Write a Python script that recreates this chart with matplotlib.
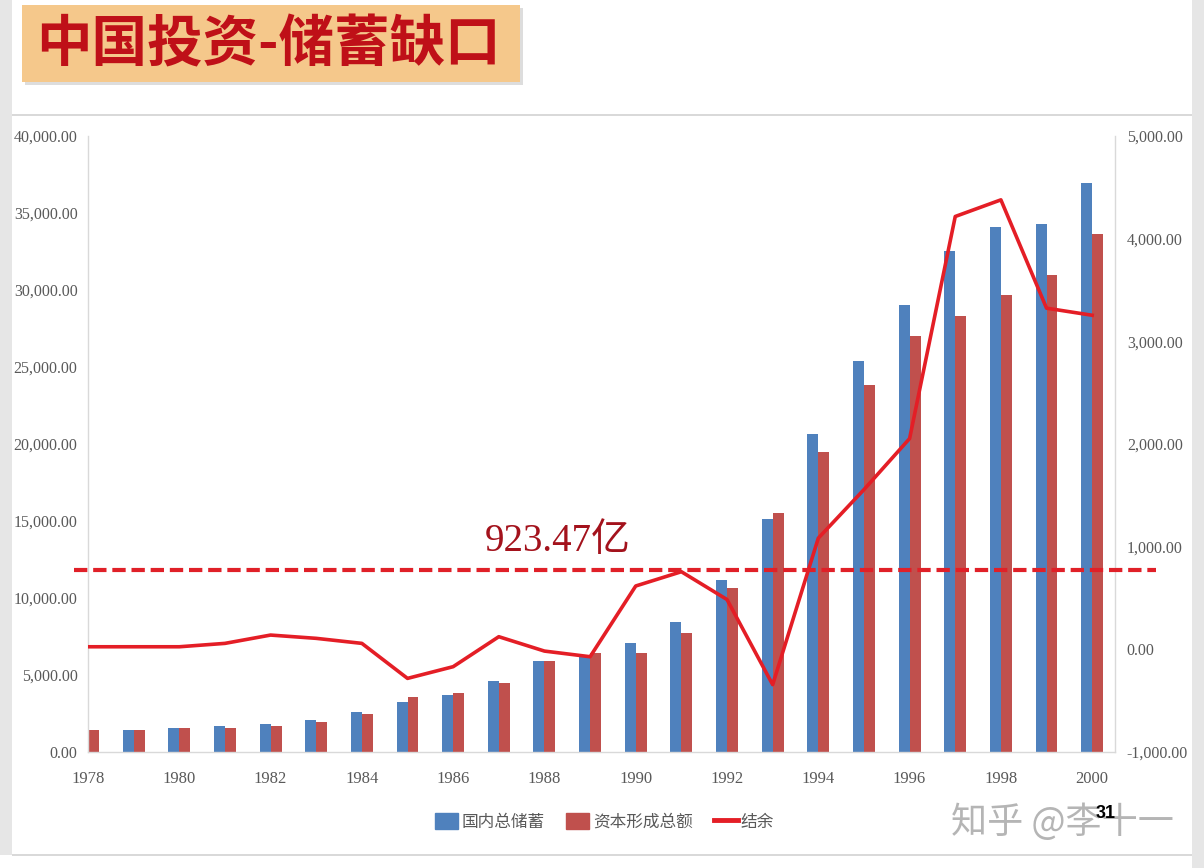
import matplotlib.pyplot as plt
import matplotlib.transforms as mtransforms
from matplotlib.patches import Rectangle, Patch
from matplotlib.lines import Line2D
from matplotlib.ticker import FuncFormatter

plt.rcParams['font.family'] = ['Liberation Serif', 'Noto Sans CJK SC']

# data (亿元)
years = list(range(1978, 2001))
savings = [1450, 1430, 1537, 1688, 1818, 2078, 2597, 3225, 3723, 4611, 5910, 6170,
           7060, 8462, 11157, 15146, 20617, 25360, 29052, 32529, 34065, 34280, 36975]
investment = [1429, 1430, 1537, 1537, 1688, 1948, 2446, 3593, 3853, 4481, 5910, 6407,
              6441, 7708, 10645, 15496, 19458, 23824, 27004, 28298, 29699, 30993, 33661]
balance = [25, 25, 25, 58, 139, 107, 58, -283, -169, 123, -17, -72,
           617, 756, 485, -344, 1083, 1556, 2053, 4216, 4378, 3323, 3254]
gap_level = 775
gap_label = '923.47亿'
legend_labels = ['国内总储蓄', '资本形成总额', '结余']

blue = '#4F81BD'
red = '#C0504D'
line_red = '#E41E26'
grey_txt = '#595959'

fig = plt.figure(figsize=(12.04, 8.68), dpi=100)
W, H = 1204, 868


def px(x0, y0, w, h, **kw):
    # rectangle given in pixel coords from the top-left corner
    fig.add_artist(Rectangle((x0 / W, 1 - (y0 + h) / H), w / W, h / H,
                             transform=fig.transFigure, **kw))


# slide background pieces
px(0, 0, 12, 855, color='#E6E6E6', lw=0)
px(1192, 0, 12, 868, color='#E6E6E6', lw=0)
px(12, 114, 1180, 1.5, color='#D9D9D9', lw=0)
px(12, 854, 1180, 1.5, color='#D9D9D9', lw=0)

# title box with a small shadow
px(25, 8, 498, 77, color='#BDBDBD', lw=0, alpha=0.5)
px(22, 5, 498, 77, color='#F5C88B', lw=0)
fig.text(268 / W, 1 - 45 / H, '中国投资-储蓄缺口', fontsize=40, fontweight='bold',
         color='#BF1018', ha='center', va='center', family=['Noto Sans CJK SC'])

ax = fig.add_axes([88 / W, 116 / H, 1027 / W, 616 / H])
ax2 = ax.twinx()

bw = 0.24
x = years
ax.bar([v - bw / 2 for v in x], savings, width=bw, color=blue, zorder=2)
ax.bar([v + bw / 2 for v in x], investment, width=bw, color=red, zorder=2)
ax.set_xlim(1978, 2000.5)
ax.set_ylim(0, 40000)
ax.set_yticks(range(0, 40001, 5000))
ax.yaxis.set_major_formatter(FuncFormatter(lambda v, p: f'{v:,.2f}'))
ax.set_xticks(range(1978, 2001, 2))

ax2.plot(x, balance, color=line_red, lw=2.6, zorder=5)
ax2.set_ylim(-1000, 5000)
ax2.set_yticks(range(-1000, 5001, 1000))
ax2.yaxis.set_major_formatter(FuncFormatter(lambda v, p: f'{v:,.2f}'))

for a in (ax, ax2):
    for s in a.spines.values():
        s.set_visible(False)
    a.tick_params(length=0, labelsize=11.5, labelcolor=grey_txt)
ax.spines['left'].set_visible(True)
ax.spines['bottom'].set_visible(True)
ax2.spines['right'].set_visible(True)
for s in (ax.spines['left'], ax.spines['bottom'], ax2.spines['right']):
    s.set_color('#D9D9D9')
    s.set_linewidth(1)
ax.tick_params(axis='y', pad=7.5)
ax.tick_params(axis='x', pad=14, labelsize=12)
ax2.tick_params(axis='y', pad=8.5)

# dashed gap line, running slightly past both axes
trans = mtransforms.blended_transform_factory(ax2.transAxes, ax2.transData)
ax2.plot([-0.014, 1.04], [gap_level, gap_level], transform=trans, clip_on=False,
         color='#E02028', lw=3, linestyle=(0, (3.2, 1.4)), zorder=6)
ax2.text(1988.3, gap_level + 100, gap_label, fontsize=28, color='#A3121C',
         ha='center', va='bottom', family=['Liberation Serif', 'Noto Sans CJK SC'])

handles = [Patch(color=blue), Patch(color=red), Line2D([], [], color=line_red, lw=3.5)]
fig.legend(handles, legend_labels, loc='center', bbox_to_anchor=(0.502, 0.053),
           ncol=3, frameon=False, labelcolor=grey_txt,
           prop={'family': ['Noto Sans CJK SC'], 'size': 12},
           handlelength=1.4, handleheight=1.1, handletextpad=0.2, columnspacing=1.3)

# watermark and page number (they overlap in the original slide too)
fig.text(1062 / W, 1 - 822 / H, '知乎 @李十一', fontsize=26, color='#B5B5B5',
         ha='center', va='center', family=['Noto Sans CJK SC'])
fig.text(1106 / W, 1 - 814 / H, '31', fontsize=13, color='black', fontweight='bold',
         ha='center', va='center', family=['Liberation Sans'])

fig.savefig('out.png', dpi=100)
